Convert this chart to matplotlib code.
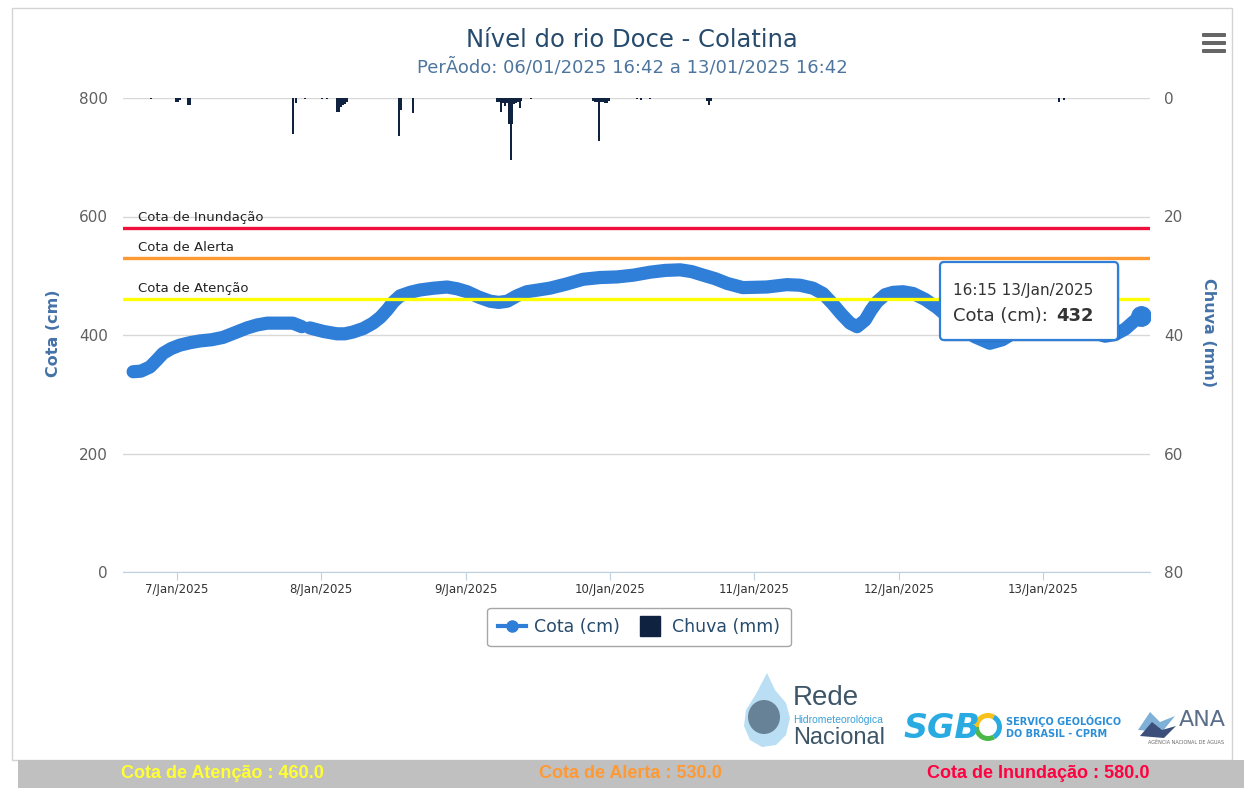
import matplotlib
matplotlib.use('Agg')
import matplotlib.pyplot as plt
import matplotlib.dates as mdates
from matplotlib.patches import Rectangle, FancyBboxPatch, Polygon, Ellipse, Wedge
from matplotlib.lines import Line2D
from matplotlib.ticker import FuncFormatter
import numpy as np
import pandas as pd

# ---------------- data ----------------
title = "Nível do rio Doce - Colatina"
subtitle = "PerÃodo: 06/01/2025 16:42 a 13/01/2025 16:42"

cota_times = [
    "2025-01-06 16:42", "2025-01-06 18:00", "2025-01-06 19:30", "2025-01-06 20:40",
    "2025-01-06 21:40", "2025-01-06 23:00", "2025-01-07 00:30", "2025-01-07 02:10",
    "2025-01-07 03:50", "2025-01-07 05:45", "2025-01-07 07:40", "2025-01-07 09:40",
    "2025-01-07 11:40", "2025-01-07 13:20", "2025-01-07 15:00", "2025-01-07 17:10",
    "2025-01-07 19:15", "2025-01-07 20:45", "2025-01-07 21:25", "2025-01-07 22:05",
    "2025-01-08 00:20", "2025-01-08 02:35", "2025-01-08 03:55", "2025-01-08 05:15",
    "2025-01-08 07:00", "2025-01-08 08:35", "2025-01-08 09:50", "2025-01-08 10:55",
    "2025-01-08 12:00", "2025-01-08 13:05", "2025-01-08 14:45", "2025-01-08 16:25",
    "2025-01-08 18:40", "2025-01-08 20:55", "2025-01-08 22:35", "2025-01-09 00:15",
    "2025-01-09 02:10", "2025-01-09 04:05", "2025-01-09 05:30", "2025-01-09 06:55",
    "2025-01-09 08:30", "2025-01-09 10:10", "2025-01-09 12:05", "2025-01-09 14:00",
    "2025-01-09 16:45", "2025-01-09 19:30", "2025-01-09 22:20", "2025-01-10 01:10",
    "2025-01-10 03:55", "2025-01-10 06:40", "2025-01-10 09:10", "2025-01-10 11:40",
    "2025-01-10 13:35", "2025-01-10 15:30", "2025-01-10 17:30", "2025-01-10 19:30",
    "2025-01-10 22:05", "2025-01-11 02:05", "2025-01-11 05:25", "2025-01-11 07:35",
    "2025-01-11 09:45", "2025-01-11 11:25", "2025-01-11 13:05", "2025-01-11 14:30",
    "2025-01-11 15:55", "2025-01-11 17:05", "2025-01-11 18:25", "2025-01-11 19:25",
    "2025-01-11 20:25", "2025-01-11 21:45", "2025-01-11 23:05", "2025-01-12 00:45",
    "2025-01-12 02:25", "2025-01-12 04:25", "2025-01-12 06:25", "2025-01-12 08:15",
    "2025-01-12 10:10", "2025-01-12 12:40", "2025-01-12 15:10", "2025-01-12 17:15",
    "2025-01-12 19:20", "2025-01-12 21:50", "2025-01-13 00:20", "2025-01-13 02:50",
    "2025-01-13 05:20", "2025-01-13 07:50", "2025-01-13 10:20", "2025-01-13 12:00",
    "2025-01-13 13:40", "2025-01-13 15:00", "2025-01-13 16:15",
]
cota_values = [
    338, 339, 346, 358,
    369, 377, 383, 387,
    390, 392, 396, 404,
    412, 417, 420, 420,
    420, 414, np.nan, 412,
    406, 402, 402, 405,
    411, 420, 430, 442,
    456, 466, 472, 476,
    479, 481, 478, 473,
    464, 457, 455, 457,
    466, 473, 476, 479,
    486, 494, 497, 498,
    501, 506, 509, 510,
    507, 501, 495, 487,
    480, 481, 485, 484,
    479, 470, 452, 435,
    420, 414, 425, 442,
    456, 468, 472, 473,
    470, 460, 446, 430,
    415, 397, 386, 392,
    405, 419, 428, 428,
    420, 406, 398, 401,
    410, 422, 432,
]

chuva_times = [
    "2025-01-06 19:40", "2025-01-06 23:50", "2025-01-07 00:10", "2025-01-07 00:30",
    "2025-01-07 01:50", "2025-01-07 02:10", "2025-01-07 19:15", "2025-01-07 19:45",
    "2025-01-07 21:15", "2025-01-08 00:05", "2025-01-08 00:55", "2025-01-08 02:35",
    "2025-01-08 02:55", "2025-01-08 03:15", "2025-01-08 03:35", "2025-01-08 03:55",
    "2025-01-08 04:15", "2025-01-08 12:55", "2025-01-08 13:15", "2025-01-08 15:15",
    "2025-01-09 05:15", "2025-01-09 05:35", "2025-01-09 05:55", "2025-01-09 06:15",
    "2025-01-09 06:35", "2025-01-09 06:55", "2025-01-09 07:15", "2025-01-09 07:30",
    "2025-01-09 07:45", "2025-01-09 08:05", "2025-01-09 08:25", "2025-01-09 08:45",
    "2025-01-09 09:00", "2025-01-09 09:15", "2025-01-09 10:50", "2025-01-09 21:10",
    "2025-01-09 21:30", "2025-01-09 21:50", "2025-01-09 22:10", "2025-01-09 22:30",
    "2025-01-09 22:50", "2025-01-09 23:10", "2025-01-09 23:30", "2025-01-09 23:50",
    "2025-01-10 04:30", "2025-01-10 05:10", "2025-01-10 06:40", "2025-01-10 16:10",
    "2025-01-10 16:30", "2025-01-10 16:50", "2025-01-13 02:40", "2025-01-13 03:30",
]
chuva_values = [
    0.2, 0.6, 0.6, 0.3,
    1.2, 1.2, 6.1, 0.8,
    0.2, 0.2, 0.2, 2.3,
    2.3, 1.6, 1.2, 1.0,
    0.6, 6.4, 2.0, 2.6,
    0.6, 0.6, 2.3, 0.8,
    1.3, 0.8, 4.4, 10.5,
    4.4, 1.0, 0.8, 0.6,
    1.7, 0.5, 0.2, 0.5,
    0.6, 0.6, 7.3, 0.6,
    0.6, 0.8, 0.8, 0.5,
    0.2, 0.4, 0.2, 0.5,
    1.2, 0.5, 0.6, 0.4,
]

threshold_names = ["Cota de Inundação", "Cota de Alerta", "Cota de Atenção"]
threshold_values = [580, 530, 460]
threshold_colors = ["#f0103c", "#ff9933", "#ffff00"]
threshold_text_colors = ["#ff0040", "#ff9933", "#ffff33"]

cota_ticks = [0, 200, 400, 600, 800]
chuva_ticks = [0, 20, 40, 60, 80]

tooltip_time = "16:15 13/Jan/2025"
tooltip_label = "Cota (cm): "
tooltip_value = "432"

# ---------------- style ----------------
BLUE = "#2f7ed8"
NAVY = "#0f2340"
W, H = 1244, 788

fig = plt.figure(figsize=(W / 100, H / 100), dpi=100)
fig.patch.set_facecolor("white")

ax = fig.add_axes([123 / W, 1 - 572 / H, (1150 - 123) / W, 474 / H])
ax.set_facecolor("none")

t_cota = pd.to_datetime(cota_times).to_numpy()
v_cota = np.array(cota_values, dtype=float)
t_chuva = pd.to_datetime(chuva_times).to_numpy()

ax.plot(t_cota, v_cota, color=BLUE, lw=9.5, solid_capstyle="round",
        solid_joinstyle="round", zorder=3)
ax.plot(t_cota[-1:], v_cota[-1:], "o", ms=14, color=BLUE, zorder=3)

for name, val, col in zip(threshold_names, threshold_values, threshold_colors):
    ax.axhline(val, color=col, lw=2.4, zorder=4)
    ax.annotate(name, xy=((138 - 123) / (1150 - 123), val),
                xycoords=ax.get_yaxis_transform(), xytext=(0, 3),
                textcoords="offset points", ha="left", va="bottom",
                fontsize=9.5, color="#222222", zorder=5)

ax.set_ylim(0, 800)
ax.set_yticks(cota_ticks)
ax.grid(axis="y", color="#d8d8d8", lw=1, zorder=0)
ax.set_axisbelow(True)
ax.tick_params(axis="y", length=0, pad=11, labelsize=11, labelcolor="#606060")

xmin = pd.Timestamp("2025-01-06 15:01")
xmax = pd.Timestamp("2025-01-13 17:48")
ax.set_xlim(xmin, xmax)
ax.xaxis.set_major_locator(mdates.DayLocator())
ax.xaxis.set_major_formatter(FuncFormatter(
    lambda x, p: (lambda d: f"{d.day}/{d.strftime('%b')}/{d.year}")(mdates.num2date(x))))
ax.tick_params(axis="x", length=6, color="#C0D0E0", labelsize=8.5,
               labelcolor="#333333", pad=2)
for s in ["top", "left", "right"]:
    ax.spines[s].set_visible(False)
ax.spines["bottom"].set_color("#C0D0E0")

ax2 = ax.twinx()
ax2.bar(t_chuva, chuva_values, width=0.012, color=NAVY, align="center", zorder=3)
ax2.set_ylim(80, 0)
ax2.set_yticks(chuva_ticks)
ax2.tick_params(axis="y", length=0, pad=10, labelsize=11, labelcolor="#606060")
for s in ["top", "left", "right", "bottom"]:
    ax2.spines[s].set_visible(False)
ax2.set_xlim(xmin, xmax)

# axis titles
fig.text(53 / W, 1 - 333 / H, "Cota (cm)", rotation=90, ha="center", va="center",
         fontsize=11.5, fontweight="bold", color="#4572A7")
fig.text(1208 / W, 1 - 333 / H, "Chuva (mm)", rotation=270, ha="center", va="center",
         fontsize=11.5, fontweight="bold", color="#4572A7")

# titles
fig.text(632 / W, 1 - 40 / H, title, ha="center", va="center", fontsize=17.5, color="#274b6d")
fig.text(632 / W, 1 - 67 / H, subtitle, ha="center", va="center", fontsize=13, color="#4d759e")

# legend
handles = [Line2D([], [], color=BLUE, lw=3, marker="o", ms=8),
           Line2D([], [], color=NAVY, lw=0, marker="s", ms=14)]
leg = ax.legend(handles, ["Cota (cm)", "Chuva (mm)"], loc="center",
                bbox_to_anchor=(639 / W, 1 - 627 / H), bbox_transform=fig.transFigure,
                ncol=2, frameon=True, fancybox=True, fontsize=12.5, handlelength=1.6,
                columnspacing=0.9, handletextpad=0.5, borderpad=0.6)
leg.get_frame().set_edgecolor("#909090")
leg.get_frame().set_linewidth(1)
for t in leg.get_texts():
    t.set_color("#274b6d")

# ---------------- overlay (pixel coordinates) ----------------
ov = fig.add_axes([0, 0, 1, 1], zorder=10)
ov.set_xlim(0, W)
ov.set_ylim(H, 0)
ov.axis("off")
ov.patch.set_visible(False)

# outer frame
ov.add_patch(Rectangle((12, 8), 1220, 752, fill=False, ec="#d4d4d4", lw=1))

# hamburger menu
for yy in (35, 43, 51):
    ov.add_patch(FancyBboxPatch((1202, yy - 2), 24, 4, boxstyle="round,pad=0,rounding_size=1",
                                fc="#666666", ec="none"))

# tooltip
ov.add_patch(FancyBboxPatch((942, 264), 178, 78, boxstyle="round,pad=0,rounding_size=4",
                            fc="#00000018", ec="none"))
ov.add_patch(FancyBboxPatch((940, 262), 178, 78, boxstyle="round,pad=0,rounding_size=4",
                            fc="white", ec=BLUE, lw=1.6))
ov.text(953, 290, tooltip_time, ha="left", va="center", fontsize=11, color="#333333")
ov.text(953, 316, tooltip_label, ha="left", va="center", fontsize=13, color="#333333")
ov.text(1056, 316, tooltip_value, ha="left", va="center", fontsize=13,
        fontweight="bold", color="#333333")

# logos: Rede Hidrometeorológica Nacional
ov.add_patch(Polygon([(767, 673), (775, 690), (786, 703), (790, 718), (786, 735),
                      (776, 745), (762, 747), (750, 740), (744, 726), (746, 710),
                      (756, 694)], closed=True, fc="#a9d6f0", ec="none", alpha=0.8))
ov.add_patch(Ellipse((764, 717), 32, 34, fc="#4b6477", ec="none", alpha=0.75))
ov.text(793, 698, "Rede", ha="left", va="center", fontsize=20, color="#3d5566",
        family=["Liberation Sans Narrow", "Liberation Sans"])
ov.text(793, 720, "Hidrometeorológica", ha="left", va="center", fontsize=7.5, color="#3aa0d8",
        family=["Liberation Sans Narrow", "Liberation Sans"])
ov.text(793, 738, "Nacional", ha="left", va="center", fontsize=17, color="#3d5566",
        family=["Liberation Sans Narrow", "Liberation Sans"])

# SGB
ov.text(903, 728, "SGB", ha="left", va="center", fontsize=24, fontweight="bold",
        style="italic", color="#29abe2")
ov.add_patch(Wedge((988, 727), 14, 180, 300, width=5, fc="#f7c11a", ec="none"))
ov.add_patch(Wedge((988, 727), 14, 300, 60, width=5, fc="#29abe2", ec="none"))
ov.add_patch(Wedge((988, 727), 14, 60, 180, width=5, fc="#4cb848", ec="none"))
ov.text(1006, 721, "SERVIÇO GEOLÓGICO", ha="left", va="center", fontsize=7,
        fontweight="bold", color="#2a8fd8")
ov.text(1006, 734, "DO BRASIL - CPRM", ha="left", va="center", fontsize=7,
        fontweight="bold", color="#2a8fd8")

# ANA
ov.add_patch(Polygon([(1138, 730), (1150, 712), (1160, 722), (1175, 716), (1162, 732)],
                     closed=True, fc="#7fb0d8", ec="none"))
ov.add_patch(Polygon([(1140, 736), (1152, 722), (1162, 730), (1176, 726), (1164, 738)],
                     closed=True, fc="#3b4f7a", ec="none"))
ov.text(1179, 720, "ANA", ha="left", va="center", fontsize=16, color="#5a6e8a")
ov.text(1186, 742, "AGÊNCIA NACIONAL DE ÁGUAS", ha="center", va="center",
        fontsize=3.5, color="#666666")

# bottom status bar
ov.add_patch(Rectangle((18, 760), 1226, 28, fc="#c0c0c0", ec="none"))
for cx, name, val, col in zip([1038, 630, 222], threshold_names, threshold_values,
                              threshold_text_colors):
    ov.text(cx, 773, f"{name} : {val:.1f}", ha="center", va="center", fontsize=13,
            fontweight="bold", color=col,
            family=["Liberation Sans Narrow", "Liberation Sans"])

fig.savefig("out.png", dpi=100)
